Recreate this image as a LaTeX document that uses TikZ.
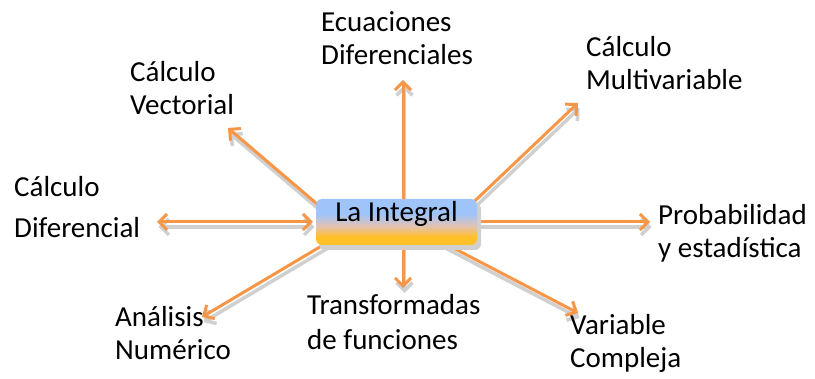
\documentclass[tikz,border=0pt]{standalone}
\usepackage{fontspec}
\setmainfont{Carlito}
\usetikzlibrary{arrows.meta}
\definecolor{arrorange}{RGB}{247,150,70}
\definecolor{shadowgray}{RGB}{208,208,208}
\definecolor{boxblue}{RGB}{158,196,250}
\definecolor{boxmid}{RGB}{226,194,182}
\definecolor{boxorange}{RGB}{255,192,40}
\pgfdeclareverticalshading{intshade}{100bp}{color(0bp)=(boxorange); color(34bp)=(boxorange); color(46bp)=(boxmid); color(59bp)=(boxblue); color(100bp)=(boxblue)}
\begin{document}
\begin{tikzpicture}[x=1pt,y=-1pt,
  lbl/.style={anchor=base west,inner sep=0pt,font=\fontsize{29}{33}\selectfont},
  arr/.style={draw=arrorange,line width=3pt,-{Straight Barb[length=8pt,width=16pt]}},
  darr/.style={draw=arrorange,line width=3pt,{Straight Barb[length=8pt,width=16pt]}-{Straight Barb[length=8pt,width=16pt]}},
  arrsh/.style={draw=shadowgray,line width=3.5pt,-{Straight Barb[length=8pt,width=16pt]},transform canvas={xshift=1.5pt,yshift=-5pt}},
  darrsh/.style={draw=shadowgray,line width=3.5pt,{Straight Barb[length=8pt,width=16pt]}-{Straight Barb[length=8pt,width=16pt]},transform canvas={xshift=1.5pt,yshift=-5pt}},
]
\useasboundingbox (0,0) rectangle (815,379);

% start points (under the central box) and free ends
\coordinate (sVec) at (330,215);  \coordinate (eVec) at (228,128);
\coordinate (sUp)  at (403,205);  \coordinate (eUp)  at (403,80);
\coordinate (sMul) at (460,215);  \coordinate (eMul) at (578,103);
\coordinate (sRt)  at (470,222);  \coordinate (eRt)  at (650,222);
\coordinate (sDn)  at (403,240);  \coordinate (eDn)  at (403,288);
\coordinate (sVar) at (440,241);  \coordinate (eVar) at (578,313);
\coordinate (sAn)  at (340,235);  \coordinate (eAn)  at (202,317);
\coordinate (sLf)  at (313,222);  \coordinate (eLf)  at (157,222);

% shadows of connectors
\foreach \s/\e in {sVec/eVec,sUp/eUp,sMul/eMul,sRt/eRt,sDn/eDn,sVar/eVar,sAn/eAn}
  \draw[arrsh] (\s) -- (\e);
\draw[darrsh] (sLf) -- (eLf);

% connectors
\foreach \s/\e in {sVec/eVec,sUp/eUp,sMul/eMul,sRt/eRt,sDn/eDn,sVar/eVar,sAn/eAn}
  \draw[arr] (\s) -- (\e);
\draw[darr] (sLf) -- (eLf);

% central node with shadow
\fill[shadowgray,rounded corners=6pt] (319,203) rectangle (481,250);
\node[inner sep=0pt,minimum width=161pt,text height=23pt,text depth=23pt,
  rounded corners=6pt,shading=intshade,
  font=\fontsize{29}{33}\selectfont] (int) at (396.5,222) {La Integral};

% labels
\node[lbl] (ec1) at (321,32) {Ecuaciones};
\node[lbl] (ec2) at (321,65) {Diferenciales};
\node[lbl] (cv1) at (130,82) {Cálculo};
\node[lbl] (cv2) at (130,115) {Vectorial};
\node[lbl] (cm1) at (586,57) {Cálculo};
\node[lbl] (cm2) at (586,90) {Multivariable};
\node[lbl] (cd1) at (14,197) {Cálculo};
\node[lbl] (cd2) at (14,238) {Diferencial};
\node[lbl] (pe1) at (658,225) {Probabilidad};
\node[lbl] (pe2) at (658,258) {y estadística};
\node[lbl] (an1) at (115,327) {Análisis};
\node[lbl] (an2) at (115,360) {Numérico};
\node[lbl] (tf1) at (307,315) {Transformadas};
\node[lbl] (tf2) at (307,350) {de funciones};
\node[lbl] (vc1) at (570,335) {Variable};
\node[lbl] (vc2) at (570,368) {Compleja};
\end{tikzpicture}
\end{document}
